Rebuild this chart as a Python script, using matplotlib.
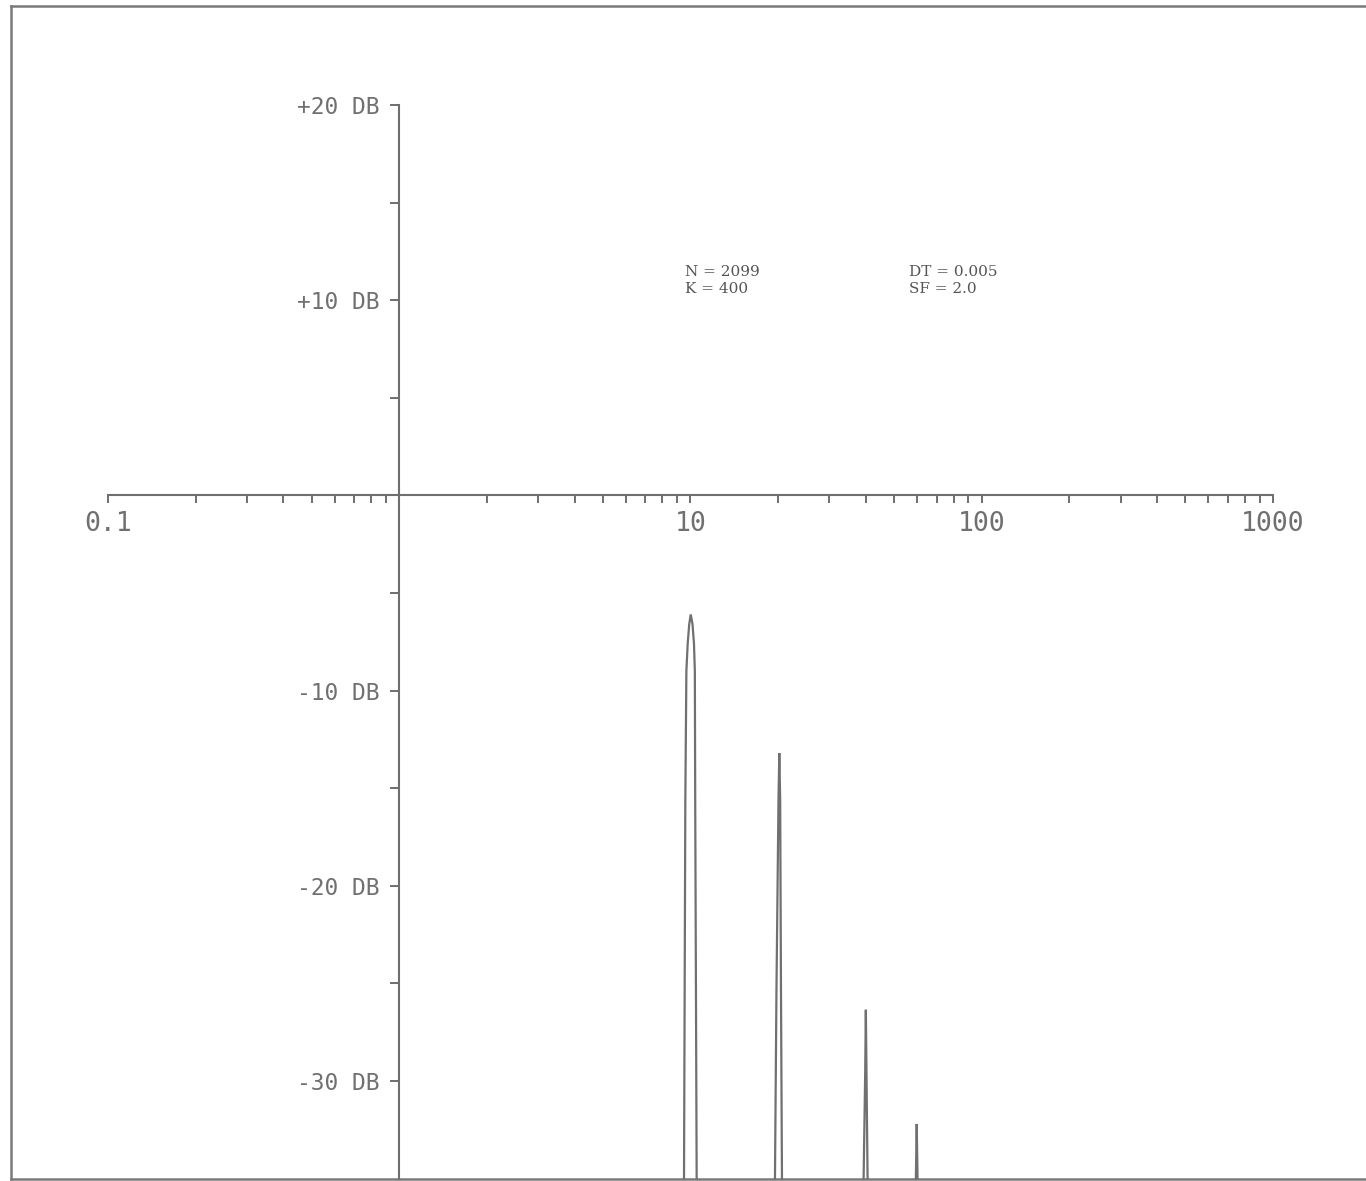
import matplotlib
matplotlib.use("Agg")
import matplotlib.pyplot as plt
from matplotlib.ticker import FixedLocator, FixedFormatter, NullFormatter

# ---------------- data ----------------
peak10_freq = [9.50, 9.60, 9.68, 9.78, 9.90, 10.02, 10.16, 10.28, 10.35, 10.38, 10.50]
peak10_db = [-35.0, -15.6, -9.0, -7.6, -6.6, -6.1, -6.6, -7.6, -9.0, -15.6, -35.0]

peak20_freq = [19.50, 19.73, 20.05, 20.18, 20.32, 20.45, 20.61]
peak20_db = [-35.0, -25.4, -15.6, -13.2, -15.6, -25.4, -35.0]

peak40_freq = [39.30, 39.80, 40.00, 40.20, 40.55]
peak40_db = [-35.0, -29.5, -26.35, -29.5, -35.0]

peak60_freq = [59.40, 59.80, 60.20]
peak60_db = [-35.0, -32.2, -35.0]

x_major = [0.1, 1, 10, 100, 1000]
x_major_labels = ["0.1", "", "10", "100", "1000"]
y_ticks = [20, 15, 10, 5, 0, -5, -10, -15, -20, -25, -30]
y_tick_labels = ["+20 DB", "", "+10 DB", "", "", "", "-10 DB", "", "-20 DB", "", "-30 DB"]

info_left = ["N = 2099", "K = 400"]
info_right = ["DT = 0.005", "SF = 2.0"]

# ---------------- figure ----------------
W, H = 1366, 1181
fig = plt.figure(figsize=(W / 100, H / 100), dpi=100)
fig.patch.set_facecolor("white")

axis_color = "#6f6f6f"
rect = [11 / W, (H - 1179) / H, 1 - 11 / W, (1179 - 6) / H]

# outer frame
frame = fig.add_axes(rect)
frame.set_xticks([])
frame.set_yticks([])
frame.patch.set_alpha(0)
for s in ["left", "top", "bottom"]:
    frame.spines[s].set_color("#7a7a7a")
    frame.spines[s].set_linewidth(1.8)
frame.spines["right"].set_visible(False)

# main axes
ax = fig.add_axes(rect)
ax.patch.set_alpha(0)
ax.set_xscale("log")
ax.set_xlim(0.04645, 2086)
ax.set_ylim(-35.02, 25.07)

ax.spines["left"].set_position(("data", 1))
ax.spines["bottom"].set_position(("data", 0))
ax.spines["left"].set_bounds(-35, 20)
ax.spines["bottom"].set_bounds(0.1, 1000)
ax.spines["right"].set_visible(False)
ax.spines["top"].set_visible(False)
for s in ["left", "bottom"]:
    ax.spines[s].set_color(axis_color)
    ax.spines[s].set_linewidth(1.5)

minor = [m * d for d in [0.1, 1, 10, 100] for m in range(2, 10)]
ax.xaxis.set_major_locator(FixedLocator(x_major))
ax.xaxis.set_major_formatter(FixedFormatter(x_major_labels))
ax.xaxis.set_minor_locator(FixedLocator(minor))
ax.xaxis.set_minor_formatter(NullFormatter())
ax.yaxis.set_major_locator(FixedLocator(y_ticks))
ax.yaxis.set_major_formatter(FixedFormatter(y_tick_labels))

ax.tick_params(axis="x", which="both", direction="out", length=6, width=1.4,
               color=axis_color, pad=5, labelsize=19, labelcolor="#707070")
ax.tick_params(axis="y", which="both", direction="out", length=6.5, width=1.4,
               color=axis_color, pad=8, labelsize=16.5, labelcolor="#707070")
for lab in ax.get_xticklabels() + ax.get_yticklabels():
    lab.set_fontfamily("DejaVu Sans Mono")

# spectrum peaks
line_color = "#707070"
for fr, db in [(peak10_freq, peak10_db), (peak20_freq, peak20_db),
               (peak40_freq, peak40_db), (peak60_freq, peak60_db)]:
    ax.plot(fr, db, color=line_color, lw=1.6, solid_joinstyle="miter", clip_on=False)

# annotations
for i, (tl, tr) in enumerate(zip(info_left, info_right)):
    yb = 1 - (276 + 17 * i) / H
    fig.text(685 / W, yb, tl, fontsize=11, family="DejaVu Serif",
             color="#555555", va="baseline")
    fig.text(909 / W, yb, tr, fontsize=11, family="DejaVu Serif",
             color="#555555", va="baseline")

fig.savefig("out.png", dpi=100, facecolor="white")
